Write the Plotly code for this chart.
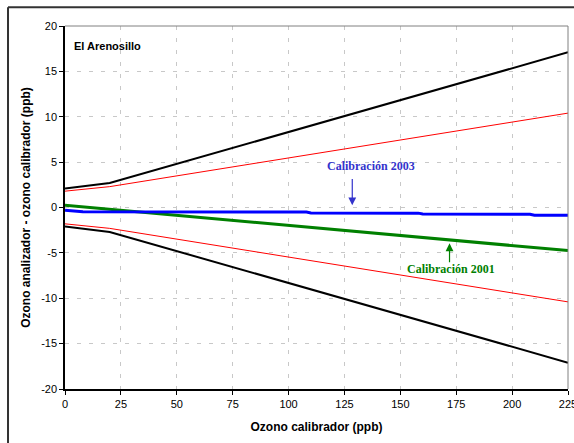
import plotly.graph_objects as go

# Data
x_env = [0, 20, 225]
black_upper = [2.1, 2.7, 17.1]
black_lower = [-2.1, -2.7, -17.1]
red_upper = [1.8, 2.3, 10.4]
red_lower = [-1.8, -2.3, -10.4]

x_green = [0, 225]
green = [0.25, -4.75]

x_blue = [0, 7, 8, 108, 110, 158, 160, 208, 210, 225]
blue = [-0.3, -0.4, -0.48, -0.5, -0.6, -0.62, -0.72, -0.74, -0.85, -0.86]

x_ticks = [0, 25, 50, 75, 100, 125, 150, 175, 200, 225]
y_ticks = [-20, -15, -10, -5, 0, 5, 10, 15, 20]
y_ticktext = [str(v) for v in y_ticks]
x_ticktext = [str(v) for v in x_ticks]

fig = go.Figure()
for yy in (black_upper, black_lower):
    fig.add_trace(go.Scatter(x=x_env, y=yy, mode="lines",
                             line=dict(color="black", width=2), showlegend=False))
for yy in (red_upper, red_lower):
    fig.add_trace(go.Scatter(x=x_env, y=yy, mode="lines",
                             line=dict(color="#ff0000", width=1), showlegend=False))
fig.add_trace(go.Scatter(x=x_green, y=green, mode="lines",
                         line=dict(color="#008000", width=3), showlegend=False))
fig.add_trace(go.Scatter(x=x_blue, y=blue, mode="lines",
                         line=dict(color="#0000ff", width=3), showlegend=False))

axis_font = dict(family="Liberation Sans, Arial", size=11, color="black")
grid = dict(showgrid=True, gridcolor="#c8c8c8", griddash="4px,8px", gridwidth=1,
            showline=True, linecolor="black", linewidth=1.5,
            ticks="outside", ticklen=4, tickcolor="black", tickfont=axis_font,
            zeroline=False, ticklabeloverflow="allow", automargin=False)

fig.update_xaxes(range=[0, 225], tickvals=x_ticks, ticktext=x_ticktext,
                 title=dict(text="<b>Ozono calibrador (ppb)</b>",
                            font=dict(family="Liberation Sans, Arial", size=12, color="black"),
                            standoff=14),
                 **grid)
fig.update_yaxes(range=[-20, 20], tickvals=y_ticks, ticktext=y_ticktext,
                 title=dict(text="<b>Ozono analizador - ozono calibrador (ppb)</b>",
                            font=dict(family="Liberation Sans, Arial", size=12, color="black"),
                            standoff=8),
                 **grid)

fig.add_annotation(x=128.5, y=0.25, xref="x", yref="y", ax=128.5, ay=3.3,
                   axref="x", ayref="y", showarrow=True, arrowhead=2, arrowsize=1.3,
                   arrowwidth=1.2, arrowcolor="#3333cc", text="")
fig.add_annotation(x=137, y=4.6, xref="x", yref="y", showarrow=False,
                   text="<b>Calibración 2003</b>",
                   font=dict(family="Liberation Serif, Times New Roman", size=12, color="#3333cc"))
fig.add_annotation(x=172, y=-3.95, xref="x", yref="y", ax=172, ay=-6.2,
                   axref="x", ayref="y", showarrow=True, arrowhead=2, arrowsize=1.3,
                   arrowwidth=1.2, arrowcolor="#008000", text="")
fig.add_annotation(x=172.5, y=-6.8, xref="x", yref="y", showarrow=False,
                   text="<b>Calibración 2001</b>",
                   font=dict(family="Liberation Serif, Times New Roman", size=12, color="#008000"))
fig.add_annotation(x=3, y=17.8, xref="x", yref="y", showarrow=False, xanchor="left",
                   text="<b>El Arenosillo</b>",
                   font=dict(family="Liberation Sans, Arial", size=11, color="black"))

# plot area border (top/right gray)
fig.add_shape(type="line", xref="paper", yref="paper", x0=0, x1=1, y0=1, y1=1,
              line=dict(color="#808080", width=1))
fig.add_shape(type="line", xref="paper", yref="paper", x0=1, x1=1, y0=0, y1=1,
              line=dict(color="#808080", width=1))
# outer chart border
fig.add_shape(type="line", xref="paper", yref="paper", x0=-0.1133, x1=1.2, y0=1.0515, y1=1.0515,
              line=dict(color="#333333", width=2))
fig.add_shape(type="line", xref="paper", yref="paper", x0=-0.1133, x1=-0.1133, y0=-0.3, y1=1.0515,
              line=dict(color="#333333", width=2))

fig.update_layout(width=574, height=443, margin=dict(l=65, r=6, t=26, b=54),
                  paper_bgcolor="white", plot_bgcolor="white", showlegend=False)

fig.write_html("out.html")
